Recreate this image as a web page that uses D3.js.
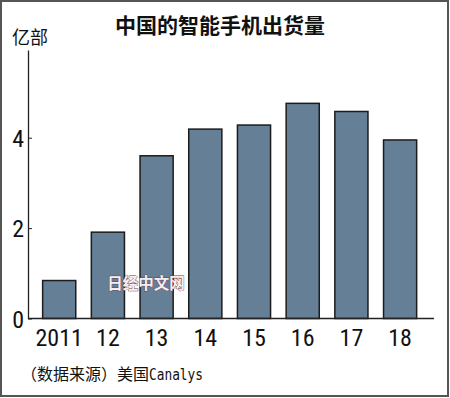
<!DOCTYPE html>
<html>
<head>
<meta charset="utf-8">
<script src="https://cdn.jsdelivr.net/npm/d3@7"></script>
<style>
  body { margin: 0; background: #fff; }
  svg { display: block; }
</style>
</head>
<body>
<div id="chart"></div>
<script>
// data (unit: 亿部)
const years = ['2011', '12', '13', '14', '15', '16', '17', '18'];
const shipments = [0.84, 1.91, 3.6, 4.19, 4.28, 4.76, 4.58, 3.95];
const yTicks = [0, 2, 4];

const width = 450, height = 398;
const margin = { top: 50, left: 28, right: 16, bottom: 79.5 };
const cjk = '"Noto Sans CJK SC", "Noto Sans CJK JP", sans-serif';
const narrow = '"Liberation Sans Narrow", "Roboto Condensed", "DejaVu Sans Condensed", sans-serif';

const svg = d3.select('#chart').append('svg')
  .attr('width', width)
  .attr('height', height);

// frame
svg.append('rect')
  .attr('x', 1).attr('y', 1)
  .attr('width', width - 3).attr('height', height - 3)
  .attr('fill', '#fff')
  .attr('stroke', '#555')
  .attr('stroke-width', 2);

const baseY = height - margin.bottom;

const x = d3.scaleBand()
  .domain(years)
  .range([34.85, 424.45])
  .paddingInner(0.32)
  .paddingOuter(0.16);

const y = d3.scaleLinear()
  .domain([0, (baseY - margin.top) / 45.2])
  .range([baseY, margin.top]);

// title
svg.append('text')
  .attr('x', 220).attr('y', 33)
  .attr('text-anchor', 'middle')
  .attr('font-family', cjk)
  .attr('font-weight', 'bold')
  .attr('font-size', 21)
  .attr('fill', '#111')
  .text('中国的智能手机出货量');

// unit
svg.append('text')
  .attr('x', 12).attr('y', 44)
  .attr('font-family', cjk)
  .attr('font-size', 18)
  .attr('fill', '#111')
  .text('亿部');

// bars
svg.selectAll('.bar')
  .data(shipments)
  .enter().append('rect')
  .attr('class', 'bar')
  .attr('x', (d, i) => x(years[i]))
  .attr('y', d => y(d))
  .attr('width', x.bandwidth())
  .attr('height', d => baseY - y(d))
  .attr('fill', '#657f97')
  .attr('stroke', '#1c1c1c')
  .attr('stroke-width', 1.5);

// y axis
const yAxis = svg.append('g')
  .attr('transform', 'translate(' + margin.left + ',0)')
  .call(d3.axisLeft(y).tickValues(yTicks).tickFormat(d3.format('d'))
    .tickSizeInner(-4).tickSizeOuter(0).tickPadding(4));
yAxis.select('.domain').attr('stroke', '#222').attr('stroke-width', 1.3);
yAxis.selectAll('.tick line').attr('stroke', '#222');
yAxis.selectAll('.tick text')
  .attr('font-family', narrow)
  .attr('font-size', 24)
  .attr('fill', '#111')
  .attr('dy', '0.36em');

// baseline
svg.append('line')
  .attr('x1', margin.left).attr('x2', 434)
  .attr('y1', baseY).attr('y2', baseY)
  .attr('stroke', '#222')
  .attr('stroke-width', 1.3);

// x axis labels
const xAxis = svg.append('g')
  .attr('transform', 'translate(0,' + baseY + ')')
  .call(d3.axisBottom(x).tickSize(0).tickPadding(10));
xAxis.select('.domain').remove();
xAxis.selectAll('.tick text')
  .attr('font-family', narrow)
  .attr('font-size', 24)
  .attr('fill', '#111');

// watermark
svg.append('text')
  .attr('x', 146).attr('y', 289)
  .attr('text-anchor', 'middle')
  .attr('font-family', cjk)
  .attr('font-weight', 'bold')
  .attr('font-size', 15.5)
  .attr('fill', '#f6eef0')
  .attr('stroke', '#6b3a48')
  .attr('stroke-width', 0.8)
  .attr('paint-order', 'stroke')
  .text('日经中文网');

// source
const src = svg.append('text')
  .attr('x', 21).attr('y', 380)
  .attr('font-family', cjk)
  .attr('font-size', 16)
  .attr('fill', '#111');
src.append('tspan').text('（数据来源）美国');
src.append('tspan')
  .attr('font-family', '"DejaVu Sans Mono", monospace')
  .attr('font-size', 15)
  .attr('textLength', 54)
  .attr('lengthAdjust', 'spacingAndGlyphs')
  .text('Canalys');
</script>
</body>
</html>
